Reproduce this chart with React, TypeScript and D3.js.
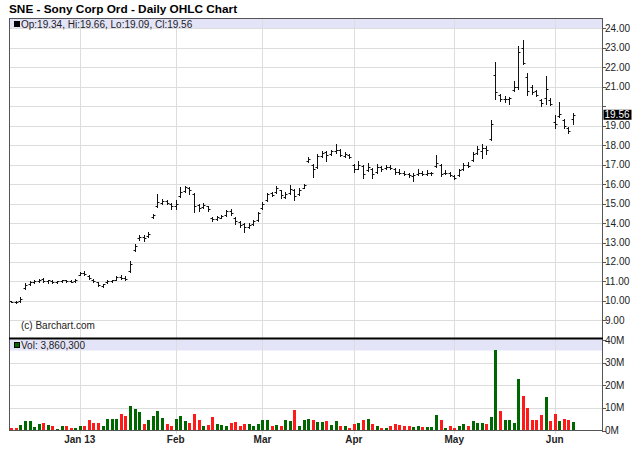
import * as d3 from 'd3';

// SNE daily bars, Dec 10 2012 .. Jun 7 2013 (index = trading day)
const opens = [
  10.0, 9.95, 9.98, 10.65, 10.85, 10.95, 11.02, 11.12, 11.0, 11.02, 10.95, 11.0, 11.05, 11.0, 11.0, 11.35,
  11.45, 11.3, 11.1, 10.95, 10.78, 10.95, 11.0, 11.1, 11.25, 11.2, 11.55, 12.6, 13.25, 13.3, 13.35, 14.3,
  14.85, 15.05, 15.15, 15.0, 14.85, 15.4, 15.65, 15.8, 15.5, 14.95, 14.8, 14.85, 14.25, 14.2, 14.28, 14.4,
  14.6, 14.25, 14.05, 13.95, 13.8, 13.95, 14.15, 14.75, 15.2, 15.55, 15.6, 15.7, 15.35, 15.55, 15.7, 15.5,
  15.8, 17.2, 17.0, 16.9, 17.45, 17.65, 17.55, 17.7, 17.75, 17.45, 17.5, 17.0, 16.8, 16.95, 16.7, 16.8,
  16.6, 16.9, 16.85, 16.9, 16.8, 16.6, 16.55, 16.5, 16.4, 16.5, 16.55, 16.5, 16.55, 16.95, 17.0, 16.55,
  16.55, 16.4, 16.45, 16.75, 17.0, 17.25, 17.6, 17.7, 17.85, 18.3, 21.6, 20.6, 20.35, 20.35, 20.85, 21.0,
  23.0, 21.5, 21.0, 20.8, 20.3, 20.4, 20.3, 19.2, 19.5, 19.3, 18.9, 19.34,
];
const highs = [
  10.02, 9.98, 10.18, 10.9, 11.0, 11.08, 11.12, 11.18, 11.1, 11.05, 11.02, 11.08, 11.08, 11.05, 11.12, 11.5,
  11.52, 11.35, 11.15, 10.98, 10.88, 11.05, 11.1, 11.28, 11.32, 11.28, 12.05, 12.9, 13.4, 13.38, 13.55, 14.45,
  15.5, 15.25, 15.2, 15.05, 15.2, 15.85, 15.92, 15.85, 15.55, 15.0, 15.05, 14.9, 14.3, 14.35, 14.4, 14.65,
  14.7, 14.3, 14.1, 14.0, 14.0, 14.15, 14.55, 15.1, 15.55, 15.6, 15.9, 15.72, 15.6, 15.95, 15.75, 15.78,
  16.0, 17.4, 17.05, 17.55, 17.7, 17.7, 17.75, 18.05, 17.8, 17.65, 17.55, 17.05, 17.2, 17.0, 17.1, 16.85,
  17.05, 16.95, 17.0, 17.0, 16.85, 16.75, 16.65, 16.55, 16.55, 16.75, 16.65, 16.7, 16.62, 17.5, 17.05, 16.7,
  16.62, 16.45, 16.8, 17.1, 17.15, 17.65, 17.95, 18.05, 17.95, 19.3, 22.25, 20.65, 20.5, 20.45, 21.3, 23.1,
  23.4, 21.7, 21.1, 20.85, 20.35, 21.55, 20.4, 19.55, 20.2, 19.35, 18.95, 19.66,
];
const lows = [
  9.92, 9.88, 9.95, 10.62, 10.8, 10.92, 10.98, 10.98, 10.9, 10.9, 10.92, 10.98, 10.95, 10.95, 10.95, 11.32,
  11.35, 11.15, 10.95, 10.75, 10.72, 10.92, 10.98, 11.05, 11.12, 11.05, 11.5, 12.55, 13.15, 13.1, 13.3, 14.25,
  14.8, 15.0, 15.0, 14.72, 14.7, 15.35, 15.6, 15.5, 14.55, 14.6, 14.75, 14.6, 14.1, 14.15, 14.25, 14.35,
  14.4, 13.95, 13.8, 13.55, 13.75, 13.92, 14.12, 14.7, 15.15, 15.4, 15.55, 15.3, 15.3, 15.5, 15.2, 15.45,
  15.78, 17.15, 16.35, 16.85, 17.4, 17.2, 17.5, 17.6, 17.45, 17.4, 17.35, 16.6, 16.75, 16.3, 16.65, 16.3,
  16.55, 16.65, 16.8, 16.78, 16.5, 16.5, 16.45, 16.35, 16.15, 16.45, 16.45, 16.48, 16.45, 16.9, 16.4, 16.5,
  16.42, 16.25, 16.4, 16.7, 16.9, 17.2, 17.55, 17.35, 17.55, 18.25, 20.35, 20.25, 20.2, 20.1, 20.8, 20.9,
  22.15, 20.6, 20.65, 20.5, 20.0, 20.1, 20.05, 18.9, 19.45, 18.9, 18.6, 19.09,
];
const closes = [
  9.95, 9.92, 10.1, 10.8, 10.95, 11.0, 11.1, 11.0, 11.05, 10.95, 11.0, 11.05, 11.0, 10.98, 11.05, 11.45,
  11.4, 11.2, 11.0, 10.8, 10.85, 11.0, 11.05, 11.25, 11.2, 11.15, 11.9, 12.8, 13.3, 13.25, 13.45, 14.4,
  15.1, 15.15, 15.05, 14.9, 15.0, 15.6, 15.85, 15.7, 14.9, 14.75, 14.95, 14.7, 14.2, 14.3, 14.35, 14.6,
  14.5, 14.1, 13.9, 13.8, 13.9, 14.1, 14.5, 15.0, 15.5, 15.45, 15.8, 15.45, 15.5, 15.75, 15.4, 15.7,
  15.95, 17.3, 16.8, 17.45, 17.6, 17.5, 17.7, 17.75, 17.5, 17.55, 17.4, 16.75, 17.0, 16.5, 16.9, 16.5,
  16.9, 16.8, 16.9, 16.85, 16.6, 16.55, 16.5, 16.45, 16.46, 16.55, 16.5, 16.55, 16.58, 17.1, 16.5, 16.55,
  16.45, 16.3, 16.7, 17.0, 16.95, 17.55, 17.8, 17.85, 17.75, 19.1, 20.75, 20.35, 20.38, 20.42, 21.0, 22.8,
  22.2, 20.8, 20.75, 20.6, 20.15, 20.9, 20.1, 19.1, 19.6, 19.0, 18.75, 19.56,
];
// volume in millions of shares
const volumes = [
  1.2, 1.0, 2.5, 4.2, 4.2, 1.5, 3.0, 3.4, 2.5, 1.8, 0.5, 1.8, 1.8, 1.0, 1.0, 2.0,
  2.2, 4.8, 3.1, 3.1, 1.8, 5.1, 4.9, 5.2, 7.2, 6.3, 10.7, 9.3, 8.2, 3.0, 4.8, 6.3,
  8.4, 5.5, 3.0, 2.2, 5.2, 6.3, 4.0, 3.4, 7.5, 4.8, 1.8, 2.5, 6.0, 3.0, 2.5, 2.2,
  3.3, 3.6, 2.0, 2.7, 3.0, 1.8, 3.0, 4.8, 4.8, 2.2, 2.5, 2.2, 4.8, 4.2, 9.0, 2.2,
  4.8, 5.2, 4.8, 3.7, 3.7, 4.2, 2.5, 4.0, 2.2, 2.0, 1.2, 3.0, 3.3, 4.8, 5.2, 3.0,
  2.2, 1.2, 1.0, 2.0, 3.0, 2.5, 1.8, 1.8, 1.5, 1.8, 1.5, 1.5, 1.5, 6.7, 4.8, 0.9,
  1.8, 1.0, 2.2, 2.7, 2.2, 4.0, 3.5, 3.5, 3.0, 6.0, 35.5, 8.5, 4.8, 4.8, 3.5, 22.7,
  15.4, 10.1, 4.5, 4.5, 6.7, 15.0, 4.0, 7.2, 4.0, 5.2, 4.5, 3.86,
];

const monthIdx = [15, 36, 55, 75, 97, 119];
const monthLabels = ['Jan 13', 'Feb', 'Mar', 'Apr', 'May', 'Jun'];
const priceTicks = [24, 23, 22, 21, 20, 19, 18, 17, 16, 15, 14, 13, 12, 11, 10, 9];
const volTicks = [0, 10, 20, 30, 40];

const title = 'SNE - Sony Corp Ord - Daily OHLC Chart';
const lastLabel = 'Op:19.34, Hi:19.66, Lo:19.09, Cl:19.56';
const volLabel = 'Vol: 3,860,300';

const FONT = '"Liberation Sans", Arial, Helvetica, sans-serif';
const W = 640;
const H = 468;
const L = 9;
const R = 602;
const GREEN = '#006600';
const RED = '#ff1a1a';

export default function App() {
  const x = d3.scaleLinear().domain([0, closes.length - 1]).range([11.3, 573]);
  const y = d3.scaleLinear().domain([9, 24]).range([320.4, 28.3]);
  const yv = d3.scaleLinear().domain([0, 40]).range([430.5, 340]);

  const px = (v: number) => Math.round(v) + 0.5;
  const last = closes[closes.length - 1];
  const lastY = y(last);

  return (
    <svg
      width={W}
      height={H}
      style={{ position: 'absolute', left: 0, top: 0, background: '#fff', fontFamily: FONT }}
    >
      <rect x={0} y={0} width={W} height={H} fill="#fff" />
      <text x={9} y={12.5} fontSize={11.8} fontWeight="bold" fill="#000">{title}</text>

      {/* price panel */}
      <rect x={L} y={18} width={R - L} height={11} fill="#e4e4f8" />
      {priceTicks.map((t) => (
        <line key={'pg' + t} x1={L} x2={R} y1={px(y(t))} y2={px(y(t))} stroke="#dddddd" />
      ))}
      {/* volume panel */}
      <rect x={L} y={339.5} width={R - L} height={11} fill="#e4e4f8" />
      {volTicks.slice(1, 4).map((t) => (
        <line key={'vg' + t} x1={L} x2={R} y1={px(yv(t))} y2={px(yv(t))} stroke="#dddddd" />
      ))}
      {monthIdx.map((i) => (
        <line key={'mg' + i} x1={px(x(i))} x2={px(x(i))} y1={18} y2={434} stroke="#dddddd" />
      ))}

      {/* OHLC bars */}
      {closes.map((c, i) => {
        const cx = px(x(i));
        return (
          <g key={'b' + i} stroke="#111" strokeWidth={1}>
            <line x1={cx} x2={cx} y1={Math.round(y(highs[i]))} y2={Math.round(y(lows[i])) + 1} />
            <line x1={cx - 2} x2={cx} y1={px(y(opens[i]))} y2={px(y(opens[i]))} />
            <line x1={cx} x2={cx + 2} y1={px(y(c))} y2={px(y(c))} />
          </g>
        );
      })}

      {/* volume bars */}
      {volumes.map((v, i) => {
        const up = i === 0 ? closes[i] >= opens[i] : closes[i] >= closes[i - 1];
        const top = Math.round(yv(v));
        return (
          <rect
            key={'v' + i}
            x={Math.round(x(i)) - 1}
            y={top}
            width={3}
            height={Math.max(1, Math.round(yv(0)) - top)}
            fill={up ? GREEN : RED}
          />
        );
      })}

      {/* frames */}
      <line x1={L} x2={R} y1={18.5} y2={18.5} stroke="#555" />
      <line x1={L + 0.5} x2={L + 0.5} y1={18} y2={431} stroke="#555" />
      <line x1={R + 0.5} x2={R + 0.5} y1={18} y2={431} stroke="#555" />
      <rect x={L} y={337.5} width={R - L + 1} height={2} fill="#000" />
      <line x1={L} x2={R + 1} y1={430.5} y2={430.5} stroke="#555" />

      {/* legends */}
      <rect x={14.5} y={21.5} width={5} height={5} fill="#000" stroke="#000" />
      <text x={21} y={28} fontSize={10} fill="#222">{lastLabel}</text>
      <rect x={14.5} y={342.5} width={5} height={5} fill={GREEN} stroke="#000" />
      <text x={21} y={349} fontSize={10} fill="#222">{volLabel}</text>
      <text x={21} y={329} fontSize={10} fill="#222">(c) Barchart.com</text>

      {/* right price axis */}
      {priceTicks.map((t) => (
        <g key={'pt' + t}>
          <line x1={R} x2={R + 4} y1={px(y(t))} y2={px(y(t))} stroke="#555" />
          {Math.abs(y(t) - lastY) > 9 && (
            <text x={605} y={y(t) + 3.5} fontSize={10} fill="#222">{t.toFixed(2)}</text>
          )}
        </g>
      ))}
      <rect x={603.5} y={lastY - 5} width={28} height={10} fill="#000" />
      <text x={604.5} y={lastY + 3.5} fontSize={10} fill="#fff">{last.toFixed(2)}</text>

      {/* right volume axis */}
      {volTicks.map((t) => (
        <g key={'vt' + t}>
          <line x1={R} x2={R + 4} y1={px(yv(t))} y2={px(yv(t))} stroke="#555" />
          <text x={605} y={yv(t) + 3.5} fontSize={10} fill="#222">{t + 'M'}</text>
        </g>
      ))}

      {/* bottom axis */}
      {monthIdx.map((i, k) => (
        <text key={'ml' + i} x={x(i)} y={443} fontSize={10} fontWeight="bold" textAnchor="middle" fill="#222">
          {monthLabels[k]}
        </text>
      ))}
    </svg>
  );
}
